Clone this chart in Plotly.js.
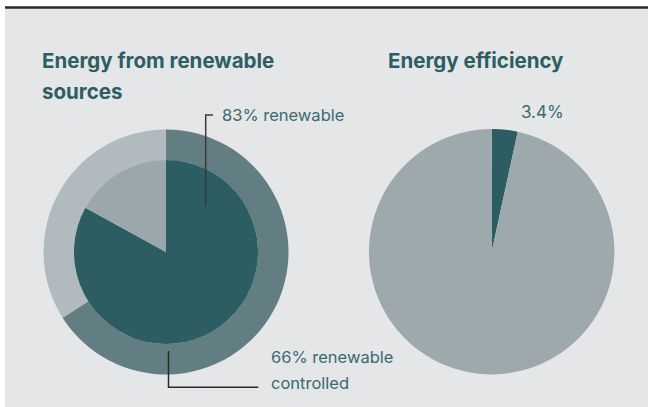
<!DOCTYPE html>
<html>
<head>
<meta charset="utf-8">
<script src="https://cdn.plot.ly/plotly-3.0.1.min.js"></script>
<style>html,body{margin:0;padding:0;background:#fff;}#chart{width:648px;height:407px;}</style>
</head>
<body>
<div id="chart"></div>
<script>
// ---- data ----
const controlledLabels = ["Renewable controlled", "Other"];
const controlledValues = [66, 34];
const renewableLabels = ["Renewable", "Non-renewable"];
const renewableValues = [83, 17];
const efficiencyLabels = ["Efficiency", "Rest"];
const efficiencyValues = [3.4, 96.6];
const titleLeft = ["Energy from renewable", "sources"];
const titleRight = "Energy efficiency";
const labelRenewable = "83% renewable";
const labelControlled = ["66% renewable", "controlled"];
const labelEfficiency = "3.4%";

const W = 648, H = 407;
const px = x => x / W;
const py = y => 1 - y / H;

const dark = "#2b5d63";
const titleColor = "#2d5e64";
const textColor = "#3a6a70";
const bg = "#e4e6e8";

function dom(cx, cy, r) {
  return {x: [px(cx - r), px(cx + r)], y: [py(cy + r), py(cy - r)]};
}

const traces = [
  {
    type: "pie", labels: controlledLabels, values: controlledValues,
    hole: 0.75, sort: false, direction: "clockwise", rotation: 0,
    marker: {colors: ["#637e83", "#b1babf"], line: {width: 0}},
    textinfo: "none", hoverinfo: "skip", showlegend: false,
    domain: dom(166, 252, 122.5)
  },
  {
    type: "pie", labels: renewableLabels, values: renewableValues,
    sort: false, direction: "clockwise", rotation: 0,
    marker: {colors: [dark, "#9aa7ab"], line: {width: 0}},
    textinfo: "none", hoverinfo: "skip", showlegend: false,
    domain: dom(166, 252, 92)
  },
  {
    type: "pie", labels: efficiencyLabels, values: efficiencyValues,
    sort: false, direction: "clockwise", rotation: 0,
    marker: {colors: [dark, "#9da9ad"], line: {width: 0}},
    textinfo: "none", hoverinfo: "skip", showlegend: false,
    domain: dom(491.7, 251.7, 122.7)
  }
];

const tFont = {family: "Inter, 'Open Sans', sans-serif", size: 20.5, color: titleColor, weight: 700};
const lFont = {family: "Inter, 'Open Sans', sans-serif", size: 16.5, color: textColor};

function ann(text, x, y, font) {
  return {text: text, x: px(x), y: py(y), xref: "paper", yref: "paper",
          xanchor: "left", yanchor: "middle", showarrow: false, font: font};
}

const layout = {
  width: W, height: H,
  margin: {l: 0, r: 0, t: 0, b: 0},
  paper_bgcolor: "#ffffff",
  showlegend: false,
  shapes: [
    {type: "rect", xref: "paper", yref: "paper", x0: px(5), x1: px(648), y0: py(407), y1: py(8.5),
     fillcolor: bg, line: {width: 0}, layer: "below"},
    {type: "line", xref: "paper", yref: "paper", x0: px(5), x1: px(648), y0: py(7.5), y1: py(7.5),
     line: {color: "#2a2a2a", width: 2.5}},
    // leader for 83%
    {type: "path", xref: "paper", yref: "paper",
     path: `M ${px(213)} ${py(115)} L ${px(205.7)} ${py(115)} L ${px(205.7)} ${py(206)}`,
     line: {color: "#3b3b3b", width: 1.5}},
    // leader for 66%
    {type: "path", xref: "paper", yref: "paper",
     path: `M ${px(168.5)} ${py(351)} L ${px(168.5)} ${py(387.3)} L ${px(258.3)} ${py(387.3)}`,
     line: {color: "#2a2a2a", width: 1.5}}
  ],
  annotations: [
    ann(titleLeft[0], 40, 61, tFont),
    ann(titleLeft[1], 40, 92, tFont),
    ann(titleRight, 386, 61, tFont),
    ann(labelRenewable, 220, 115, lFont),
    ann(labelControlled[0], 269, 356.5, lFont),
    ann(labelControlled[1], 269, 383, lFont),
    ann(labelEfficiency, 519, 111.5, {family: lFont.family, size: 17, color: textColor})
  ]
};

Plotly.newPlot("chart", traces, layout, {displayModeBar: false, staticPlot: true});
</script>
</body>
</html>
